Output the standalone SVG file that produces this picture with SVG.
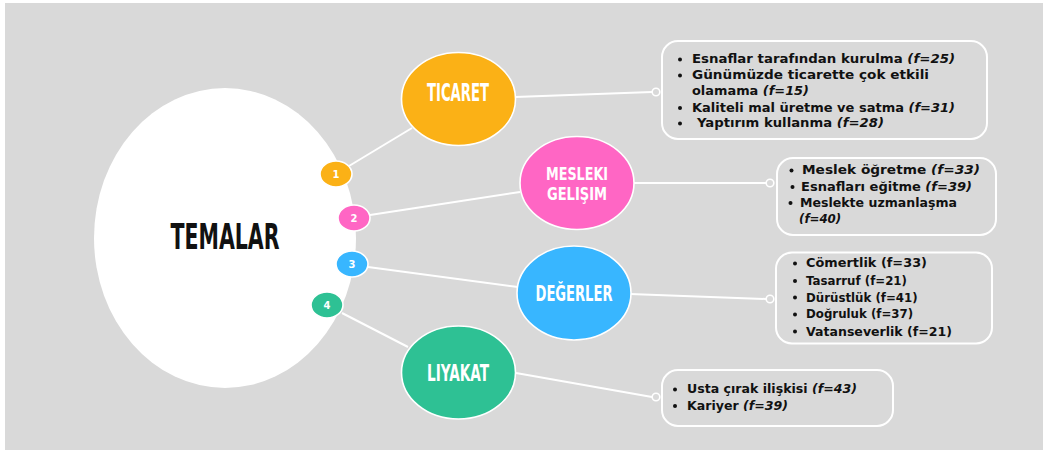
<svg xmlns="http://www.w3.org/2000/svg" width="1043" height="450" viewBox="0 0 1043 450">
<style>
.bg{fill:#d9d9d9}
.conn line{stroke:#ffffff;stroke-width:2}
.dot{fill:#d9d9d9;stroke:#ffffff;stroke-width:1.6}
.theme{stroke:#ffffff;stroke-width:1.6}
.num{stroke:#ffffff;stroke-width:1.6}
.numt{font-family:"DejaVu Sans",sans-serif;font-weight:bold;font-size:10px;fill:#ffffff;text-anchor:middle}
.tt{font-family:"Liberation Sans Narrow","DejaVu Sans Condensed","Liberation Sans",sans-serif;font-weight:bold;fill:#ffffff;text-anchor:middle}
.box{fill:#d9d9d9;stroke:#ffffff;stroke-width:2}
.bt{font-family:"DejaVu Sans",sans-serif;font-weight:bold;font-size:11.8px;fill:#111111}
.it{font-style:italic}
.bul{fill:#111111}
</style>
<rect x="0" y="0" width="1043" height="450" fill="#ffffff"/>
<rect class="bg" x="5" y="3" width="1038" height="447"/>

<g id="connectors" class="conn">
<line x1="349" y1="166" x2="412" y2="128"/>
<line x1="370" y1="215" x2="520" y2="192"/>
<line x1="368" y1="267" x2="518" y2="287"/>
<line x1="342" y1="313" x2="408" y2="347"/>
<line x1="515" y1="97" x2="652" y2="92"/>
<line x1="634" y1="183" x2="766" y2="183"/>
<line x1="630" y1="294" x2="766" y2="299"/>
<line x1="516" y1="373" x2="652" y2="397"/>
<circle class="dot" cx="656" cy="92" r="3.8"/>
<circle class="dot" cx="770" cy="183" r="3.8"/>
<circle class="dot" cx="770" cy="299" r="3.8"/>
<circle class="dot" cx="656" cy="397" r="3.8"/>
</g>

<g id="temalar">
<ellipse cx="225" cy="238" rx="131" ry="150" fill="#ffffff"/>
<text x="225" y="249" font-family="Liberation Sans Narrow,DejaVu Sans Condensed,Liberation Sans,sans-serif" font-weight="bold" font-size="35" fill="#111111" text-anchor="middle" textLength="109" lengthAdjust="spacingAndGlyphs">TEMALAR</text>
</g>

<g id="n1">
<ellipse class="num" cx="336" cy="174" rx="16" ry="13" fill="#fbb116"/>
<text class="numt" x="336" y="177.5">1</text>
</g>
<g id="n2">
<ellipse class="num" cx="354" cy="218" rx="16" ry="13" fill="#ff66c4"/>
<text class="numt" x="354" y="221.5">2</text>
</g>
<g id="n3">
<ellipse class="num" cx="352" cy="264" rx="16" ry="13" fill="#38b6ff"/>
<text class="numt" x="352" y="267.5">3</text>
</g>
<g id="n4">
<ellipse class="num" cx="327" cy="305" rx="16" ry="13" fill="#2ec194"/>
<text class="numt" x="327" y="308.5">4</text>
</g>

<g id="ticaret">
<ellipse class="theme" cx="458.5" cy="99" rx="57" ry="46.5" fill="#fbb116"/>
<text class="tt" x="458" y="101" font-size="24" textLength="62" lengthAdjust="spacingAndGlyphs">TICARET</text>
</g>
<g id="mesleki">
<ellipse class="theme" cx="577" cy="183" rx="57" ry="46.5" fill="#ff66c4"/>
<text class="tt" x="577" y="179.5" font-size="17.5" textLength="62" lengthAdjust="spacingAndGlyphs">MESLEKI</text>
<text class="tt" x="577" y="200" font-size="17.5" textLength="60" lengthAdjust="spacingAndGlyphs">GELIŞIM</text>
</g>
<g id="degerler">
<ellipse class="theme" cx="574" cy="293" rx="57" ry="47" fill="#38b6ff"/>
<text class="tt" x="574" y="300.5" font-size="22" textLength="77" lengthAdjust="spacingAndGlyphs">DEĞERLER</text>
</g>
<g id="liyakat">
<ellipse class="theme" cx="458.5" cy="372.5" rx="57" ry="46.5" fill="#2ec194"/>
<text class="tt" x="458" y="381" font-size="23" textLength="62" lengthAdjust="spacingAndGlyphs">LIYAKAT</text>
</g>

<g id="box1">
<rect class="box" x="662" y="41" width="325" height="98" rx="16"/>
<circle class="bul" cx="680" cy="59.5" r="2"/>
<circle class="bul" cx="680" cy="75.5" r="2"/>
<circle class="bul" cx="680" cy="108" r="2"/>
<circle class="bul" cx="680" cy="123.5" r="2"/>
<text class="bt" x="692" y="63" textLength="263" lengthAdjust="spacingAndGlyphs">Esnaflar tarafından kurulma <tspan class="it">(f=25)</tspan></text>
<text class="bt" x="692" y="79" textLength="237" lengthAdjust="spacingAndGlyphs">Günümüzde ticarette çok etkili</text>
<text class="bt" x="692" y="95" textLength="117" lengthAdjust="spacingAndGlyphs">olamama <tspan class="it">(f=15)</tspan></text>
<text class="bt" x="692" y="111.5" textLength="263" lengthAdjust="spacingAndGlyphs">Kaliteli mal üretme ve satma <tspan class="it">(f=31)</tspan></text>
<text class="bt" x="697" y="127" textLength="187" lengthAdjust="spacingAndGlyphs">Yaptırım kullanma <tspan class="it">(f=28)</tspan></text>
</g>

<g id="box2">
<rect class="box" x="777" y="158" width="219" height="77" rx="16"/>
<circle class="bul" cx="791.5" cy="170.5" r="2"/>
<circle class="bul" cx="792.5" cy="187" r="2"/>
<circle class="bul" cx="790.5" cy="203" r="2"/>
<text class="bt" x="802" y="174.3" font-size="12.5" textLength="178" lengthAdjust="spacingAndGlyphs">Meslek öğretme <tspan class="it">(f=33)</tspan></text>
<text class="bt" x="801" y="191" textLength="171" lengthAdjust="spacingAndGlyphs">Esnafları eğitme <tspan class="it">(f=39)</tspan></text>
<text class="bt" x="800" y="207.3" textLength="157" lengthAdjust="spacingAndGlyphs">Meslekte uzmanlaşma</text>
<text class="bt it" x="799" y="223.3">(f=40)</text>
</g>

<g id="box3">
<rect class="box" x="776" y="252.5" width="216" height="91" rx="16"/>
<circle class="bul" cx="795" cy="263.5" r="2"/>
<circle class="bul" cx="795" cy="281" r="2"/>
<circle class="bul" cx="795" cy="297.5" r="2"/>
<circle class="bul" cx="795" cy="314.5" r="2"/>
<circle class="bul" cx="795" cy="331.5" r="2"/>
<text class="bt" x="806" y="267.3" textLength="121" lengthAdjust="spacingAndGlyphs">Cömertlik (f=33)</text>
<text class="bt" x="806" y="285">Tasarruf (f=21)</text>
<text class="bt" x="806" y="301.7">Dürüstlük (f=41)</text>
<text class="bt" x="806" y="318.3">Doğruluk (f=37)</text>
<text class="bt" x="806" y="335.7" textLength="146" lengthAdjust="spacingAndGlyphs">Vatanseverlik (f=21)</text>
</g>

<g id="box4">
<rect class="box" x="662" y="370" width="231" height="56" rx="16"/>
<circle class="bul" cx="675" cy="389.5" r="2"/>
<circle class="bul" cx="675" cy="406" r="2"/>
<text class="bt" x="687" y="393.3" textLength="170" lengthAdjust="spacingAndGlyphs">Usta çırak ilişkisi <tspan class="it">(f=43)</tspan></text>
<text class="bt" x="687" y="410" textLength="101" lengthAdjust="spacingAndGlyphs">Kariyer <tspan class="it">(f=39)</tspan></text>
</g>
</svg>
